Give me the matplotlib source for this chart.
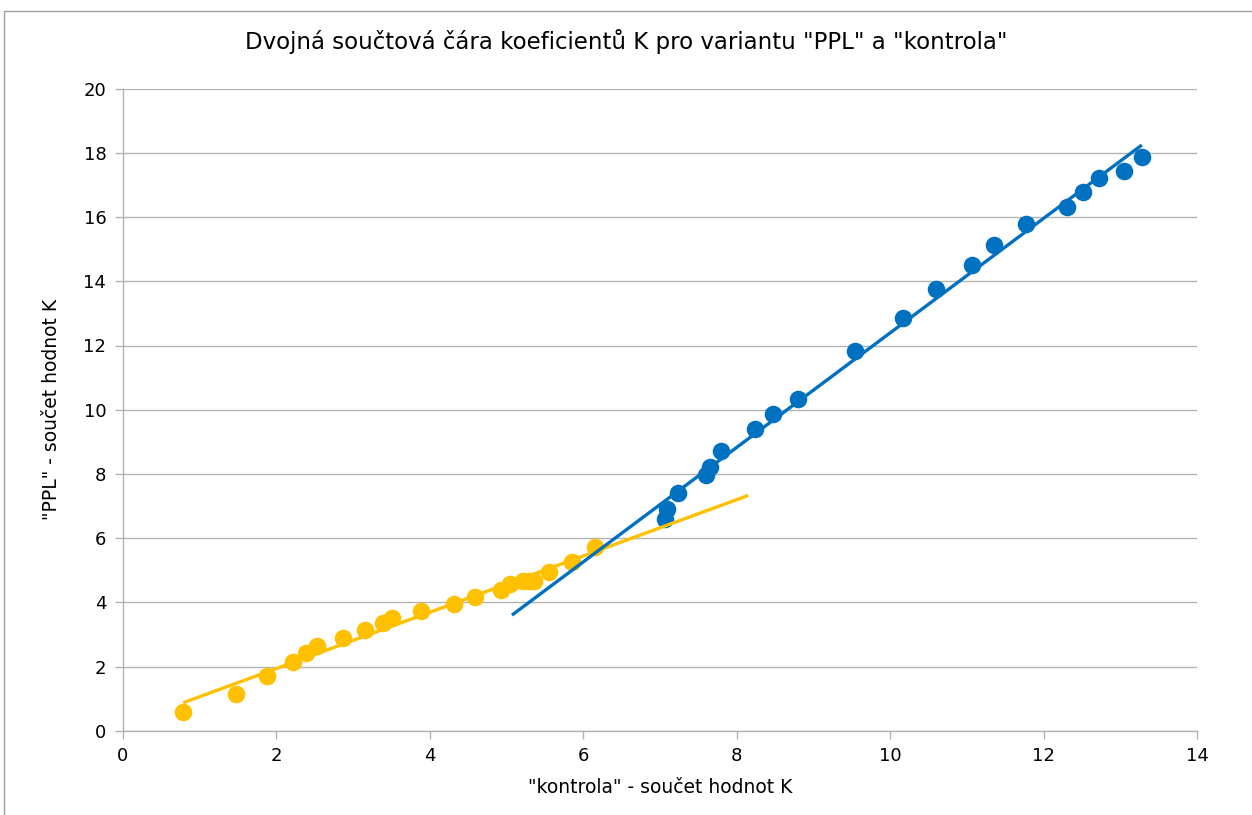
import numpy as np
import matplotlib
matplotlib.use("Agg")
import matplotlib.pyplot as plt
from matplotlib.patches import Rectangle

# Data: "kontrola" (x) vs "PPL" (y) cumulative sums of K
yellow_x = [0.785, 1.47, 1.88, 2.21, 2.39, 2.53, 2.87, 3.16, 3.39, 3.50, 3.88, 4.31,
            4.59, 4.93, 5.04, 5.22, 5.29, 5.36, 5.55, 5.85, 6.15]
yellow_y = [0.59, 1.14, 1.71, 2.15, 2.42, 2.65, 2.89, 3.15, 3.37, 3.51, 3.72, 3.95,
            4.15, 4.39, 4.57, 4.67, 4.67, 4.67, 4.93, 5.27, 5.73]

blue_x = [7.07, 7.09, 7.24, 7.60, 7.65, 7.80, 8.24, 8.47, 8.80, 9.54, 10.17, 10.60,
          11.07, 11.35, 11.77, 12.31, 12.51, 12.72, 13.05, 13.28]
blue_y = [6.59, 6.90, 7.39, 7.96, 8.22, 8.72, 9.40, 9.86, 10.33, 11.82, 12.86, 13.76,
          14.51, 15.13, 15.80, 16.32, 16.77, 17.22, 17.45, 17.88]

x_ticks = [0, 2, 4, 6, 8, 10, 12, 14]
y_ticks = [0, 2, 4, 6, 8, 10, 12, 14, 16, 18, 20]

title = 'Dvojná součtová čára koeficientů K pro variantu "PPL" a "kontrola"'
xlabel = '"kontrola" - součet hodnot K'
ylabel = '"PPL" - součet hodnot K'

YELLOW = "#FFC000"
BLUE = "#0070C0"
GRID = "#b3b3b3"

plt.rcParams['font.family'] = ['DejaVu Sans']

fig = plt.figure(figsize=(12.52, 8.15), dpi=100)
ax = fig.add_axes([123/1252, 1 - 730.7/815, (1197 - 123)/1252, (730.7 - 88.7)/815])

# Frame around chart area
fig.patches.append(Rectangle((4/1252, -0.05), 1.1, 1 - 11/815 + 0.05,
                             transform=fig.transFigure, fill=False,
                             edgecolor="#a0a0a0", linewidth=1.0))

# Trendlines (linear fit, forecast 2 units)
yx = np.array(yellow_x); yy = np.array(yellow_y)
bx = np.array(blue_x); by = np.array(blue_y)
py = np.polyfit(yx, yy, 1)
pb = np.polyfit(bx, by, 1)
tx_y = np.array([yx.min(), yx.max() + 2])
tx_b = np.array([bx.min() - 2, bx.max()])

ax.scatter(yx, yy, s=160, color=YELLOW, zorder=3, linewidths=0)
ax.plot(tx_y, np.polyval(py, tx_y), color=YELLOW, lw=2.4, zorder=4, solid_capstyle='butt')
ax.scatter(bx, by, s=160, color=BLUE, zorder=3, linewidths=0)
ax.plot(tx_b, np.polyval(pb, tx_b), color=BLUE, lw=2.4, zorder=4, solid_capstyle='butt')

ax.set_xlim(0, 14)
ax.set_ylim(0, 20)
ax.set_xticks(x_ticks)
ax.set_yticks(y_ticks)
ax.yaxis.grid(True, color=GRID, linewidth=1.0)
ax.set_axisbelow(True)
for s in ['top', 'right']:
    ax.spines[s].set_visible(False)
for s in ['left', 'bottom']:
    ax.spines[s].set_color(GRID)
    ax.spines[s].set_linewidth(1.0)
ax.tick_params(axis='both', direction='out', length=6, width=1, color=GRID,
               labelsize=13, labelcolor='#000000', pad=6)

ax.set_xlabel(xlabel, fontsize=13.5, labelpad=9)
ax.set_ylabel(ylabel, fontsize=13.5, labelpad=16)
fig.text(0.5, 1 - 42/815, title, ha='center', va='center', fontsize=16.5)

fig.savefig("out.png", dpi=100)
